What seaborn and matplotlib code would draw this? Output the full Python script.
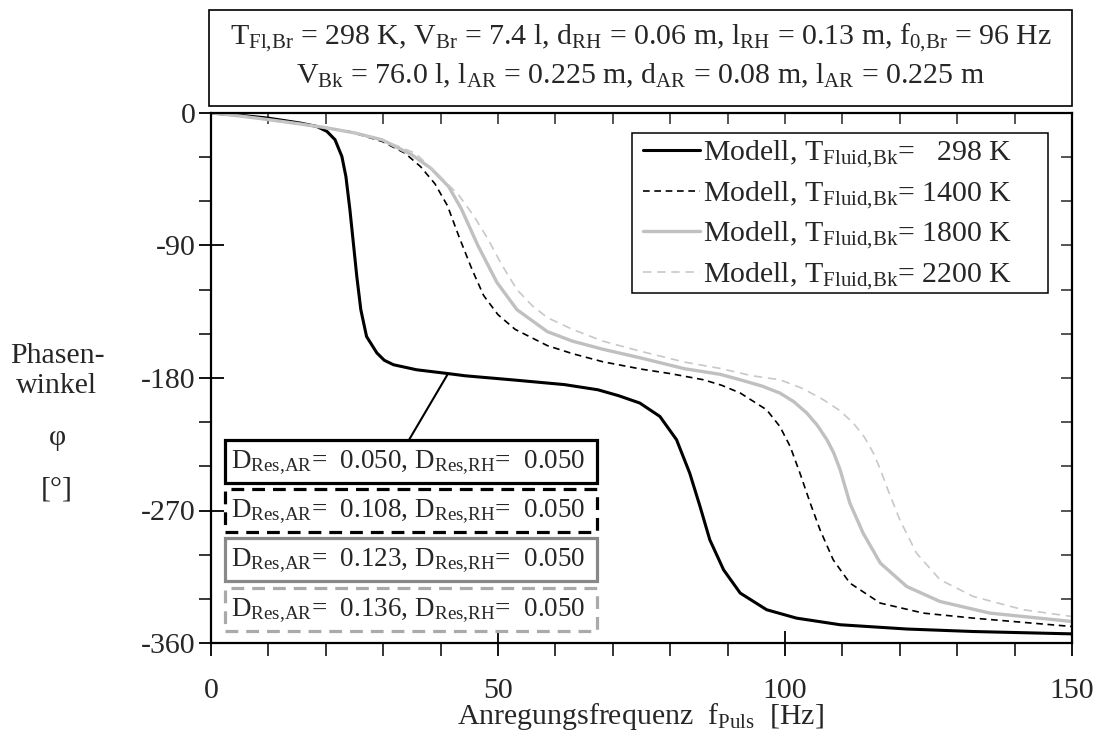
import numpy as np
import pandas as pd
import matplotlib
matplotlib.use("Agg")
import matplotlib.pyplot as plt
from matplotlib.patches import Rectangle
from matplotlib.ticker import MultipleLocator
import seaborn as sns

# values (frequency in Hz, phase in degrees)
f_298 = [0, 5, 10, 15.5, 18.4, 20.2, 21.6, 22.8, 23.5, 24.2, 24.8, 25.4, 26.1, 27.1, 28.9, 30.2,
         31.8, 35.8, 41.3, 44.3, 52.9, 61.6, 67.4, 71, 74.7, 78.2, 81.1, 83.4, 85.2, 86.9, 89.3,
         92.2, 96.8, 102, 109.6, 121.2, 132.8, 150]
p_298 = [0, -1.5, -3.5, -6.8, -9.1, -12.5, -18.1, -29.5, -43.1, -65.7, -88.3, -111, -133.6, -151.8,
         -163, -168, -171, -174.4, -177, -178.5, -181.4, -184.5, -188, -192, -197, -206.1, -221.9,
         -244.6, -267.3, -289.9, -310.3, -326.1, -337.4, -343.1, -347.6, -350.5, -352.2, -353.8]

f_1400 = [0, 5, 10, 15.3, 20, 24, 29.8, 33.8, 36.5, 39, 41.2, 43.2, 45.5, 47.5, 50, 53, 58.6, 63,
          68.3, 75, 80, 85.8, 89, 92.2, 96.8, 99.1, 100.9, 102.6, 104.4, 106.1, 108.4, 111.3,
          116.6, 124.1, 132.8, 150]
p_1400 = [0, -2, -4.5, -7.3, -10, -12.5, -19.3, -27.3, -36.4, -48, -63, -84, -106.5, -124, -137,
          -147, -158, -163.5, -169, -174, -177, -181.2, -185, -190.2, -201.6, -212.9, -226.5,
          -244.6, -265, -283.1, -303.5, -319.3, -332.9, -339.7, -343.1, -348.8]

f_1800 = [0, 5, 10, 15.3, 20, 25, 29.8, 35, 38.3, 41.4, 43.6, 46.5, 49.8, 53.3, 58.6, 63, 68.3,
          75, 82.5, 88.7, 92.2, 96, 99.1, 101.5, 103.8, 105.6, 107.3, 108.5, 109.6, 111.3, 113.6,
          116.6, 121.2, 127, 135.7, 150]
p_1800 = [0, -2, -4.5, -7.3, -10, -13.5, -18.2, -28.4, -37.5, -50, -65, -90, -115, -133.6, -148.5,
          -155, -160.5, -166.5, -173.7, -177.5, -181.2, -185.5, -190.2, -196, -203.8, -212, -221.9,
          -231, -242.3, -265, -285.3, -305.7, -321.6, -331.8, -339.7, -345.4]

f_2200 = [0, 5, 10, 15.3, 20, 25, 29.8, 35.6, 39.9, 43.2, 45.8, 48.3, 50.5, 53.3, 56, 58.6, 63,
          68.3, 75, 82.5, 88.7, 94.3, 99.1, 103, 106.7, 109.5, 111.9, 113.8, 115.4, 116.6, 117.7,
          120, 122.9, 127, 132.8, 141.5, 150]
p_2200 = [0, -2, -4.5, -7.3, -10, -13.5, -18.2, -27.3, -43, -56, -70, -86, -102, -120, -131, -139,
          -147, -155, -162, -169.2, -173.5, -178.5, -181.2, -187, -194.8, -202, -210.6, -220, -231,
          -242, -253.7, -276.3, -298.9, -317, -328.4, -337.4, -342]

temps = ["298", "1400", "1800", "2200"]
d_res_ar = ["0.050", "0.108", "0.123", "0.136"]
d_res_rh = ["0.050", "0.050", "0.050", "0.050"]

sns.set_theme(style="ticks")
plt.rcParams["font.family"] = ["Liberation Serif", "DejaVu Serif"]
plt.rcParams["mathtext.fontset"] = "custom"
plt.rcParams["mathtext.rm"] = "Liberation Serif"
plt.rcParams["mathtext.it"] = "Liberation Serif:italic"
plt.rcParams["axes.unicode_minus"] = False
FS = 21.5
FS_BOX = 19.5

fig = plt.figure(figsize=(11, 7.49), dpi=100)
ax = fig.add_axes([211 / 1100, 1 - 643 / 749, 861 / 1100, 530 / 749])

styles = [
    dict(color="black", lw=2.2, ls="-"),
    dict(color="black", lw=1.2, ls=(0, (4, 2.8))),
    dict(color="#c0c0c0", lw=2.4, ls="-"),
    dict(color="#c8c8c8", lw=1.2, ls=(0, (5, 3.5))),
]
curves = [(f_298, p_298), (f_1400, p_1400), (f_1800, p_1800), (f_2200, p_2200)]
pad_t = {"298": "  298"}
for (f, p), st, t in zip(curves, styles, temps):
    df = pd.DataFrame({"f": f, "phi": p})
    sns.lineplot(data=df, x="f", y="phi", ax=ax, sort=False, estimator=None,
                 color=st["color"], lw=st["lw"], ls=st["ls"],
                 label="Modell, T$_\\mathrm{Fluid{,}Bk}$= " + pad_t.get(t, t) + " K")

ax.set_xlim(0, 150)
ax.set_ylim(-360, 0)
ax.set_xlabel("")
ax.set_ylabel("")
ax.xaxis.set_major_locator(MultipleLocator(50))
ax.xaxis.set_minor_locator(MultipleLocator(10))
ax.yaxis.set_major_locator(MultipleLocator(90))
ax.yaxis.set_minor_locator(MultipleLocator(30))
ax.tick_params(which="major", direction="inout", length=18, width=1.3, labelsize=FS, color="black")
ax.tick_params(which="minor", direction="out", length=9, width=1.1, color="black")
ax.tick_params(axis="x", which="major", pad=16)
ax.tick_params(axis="y", which="major", pad=2)
for s in ax.spines.values():
    s.set_linewidth(1.6)
    s.set_color("black")

# inward ticks on top and right
top = ax.secondary_xaxis("top")
top.xaxis.set_major_locator(MultipleLocator(50))
top.xaxis.set_minor_locator(MultipleLocator(10))
top.tick_params(which="both", direction="in", length=8, width=1.1, labeltop=False)
right = ax.secondary_yaxis("right")
right.yaxis.set_major_locator(MultipleLocator(90))
right.yaxis.set_minor_locator(MultipleLocator(30))
right.tick_params(which="both", direction="in", length=8, width=1.1, labelright=False)

# legend without its own frame, the frame is drawn wider like in the reference
leg = ax.legend(loc="upper left", bbox_to_anchor=(0.4948, 0.963), borderaxespad=0,
                fontsize=FS, frameon=False,
                handlelength=1.9, handletextpad=0.1, labelspacing=0.3, borderpad=0.2)
ax.add_patch(Rectangle((0.489, 0.660), 0.483, 0.303, transform=ax.transAxes, fill=True,
                       fc="white", ec="black", lw=1.1, zorder=4))
leg.set_zorder(6)

# damping boxes
box_y = [0.302, 0.2096, 0.117, 0.0227]
box_st = [dict(ec="black", ls="-"), dict(ec="black", ls=(0, (4, 2.5))),
          dict(ec="#888888", ls="-"), dict(ec="#aaaaaa", ls=(0, (4, 2.5)))]
for y0, st, dar, drh in zip(box_y, box_st, d_res_ar, d_res_rh):
    ax.add_patch(Rectangle((0.0163, y0), 0.432, 0.0812, transform=ax.transAxes, fill=True,
                           fc="white", ec=st["ec"], ls=st["ls"], lw=2.3, zorder=5))
    ax.text(0.023, y0 + 0.038, "D$_\\mathrm{Res{,}AR}$=  " + dar + ", D$_\\mathrm{Res{,}RH}$=  " + drh,
            transform=ax.transAxes, fontsize=FS_BOX, va="center", ha="left", zorder=6)

i_ann = f_298.index(41.3)
ax.annotate("", xy=(f_298[i_ann], p_298[i_ann]), xytext=(34.5, -222),
            arrowprops=dict(arrowstyle="-", color="black", lw=1.5, shrinkA=0, shrinkB=0))

# header box
fig.add_artist(Rectangle((209 / 1100, 1 - 106 / 749), 863 / 1100, 96 / 749,
                         transform=fig.transFigure, fill=False, ec="black", lw=1.2))
fig.text(0.5823, 1 - 38 / 749,
         "T$_\\mathrm{Fl{,}Br}$ = 298 K, V$_\\mathrm{Br}$ = 7.4 l, d$_\\mathrm{RH}$ = 0.06 m, "
         "l$_\\mathrm{RH}$ = 0.13 m, f$_\\mathrm{0{,}Br}$ = 96 Hz",
         ha="center", va="center", fontsize=FS)
fig.text(0.5823, 1 - 76 / 749,
         "V$_\\mathrm{Bk}$ = 76.0 l, l$_\\mathrm{AR}$ = 0.225 m, d$_\\mathrm{AR}$ = 0.08 m, "
         "l$_\\mathrm{AR}$ = 0.225 m",
         ha="center", va="center", fontsize=FS)

# axis labels
fig.text(0.5823, 1 - 717 / 749, "Anregungsfrequenz  f$_\\mathrm{Puls}$  [Hz]",
         ha="center", va="center", fontsize=FS)
for txt, py in [("Phasen-", 356), ("winkel", 386), ("φ", 438), ("[°]", 490)]:
    fig.text(57 / 1100, 1 - py / 749, txt, ha="center", va="center", fontsize=FS)

fig.savefig("out.png", dpi=100)
